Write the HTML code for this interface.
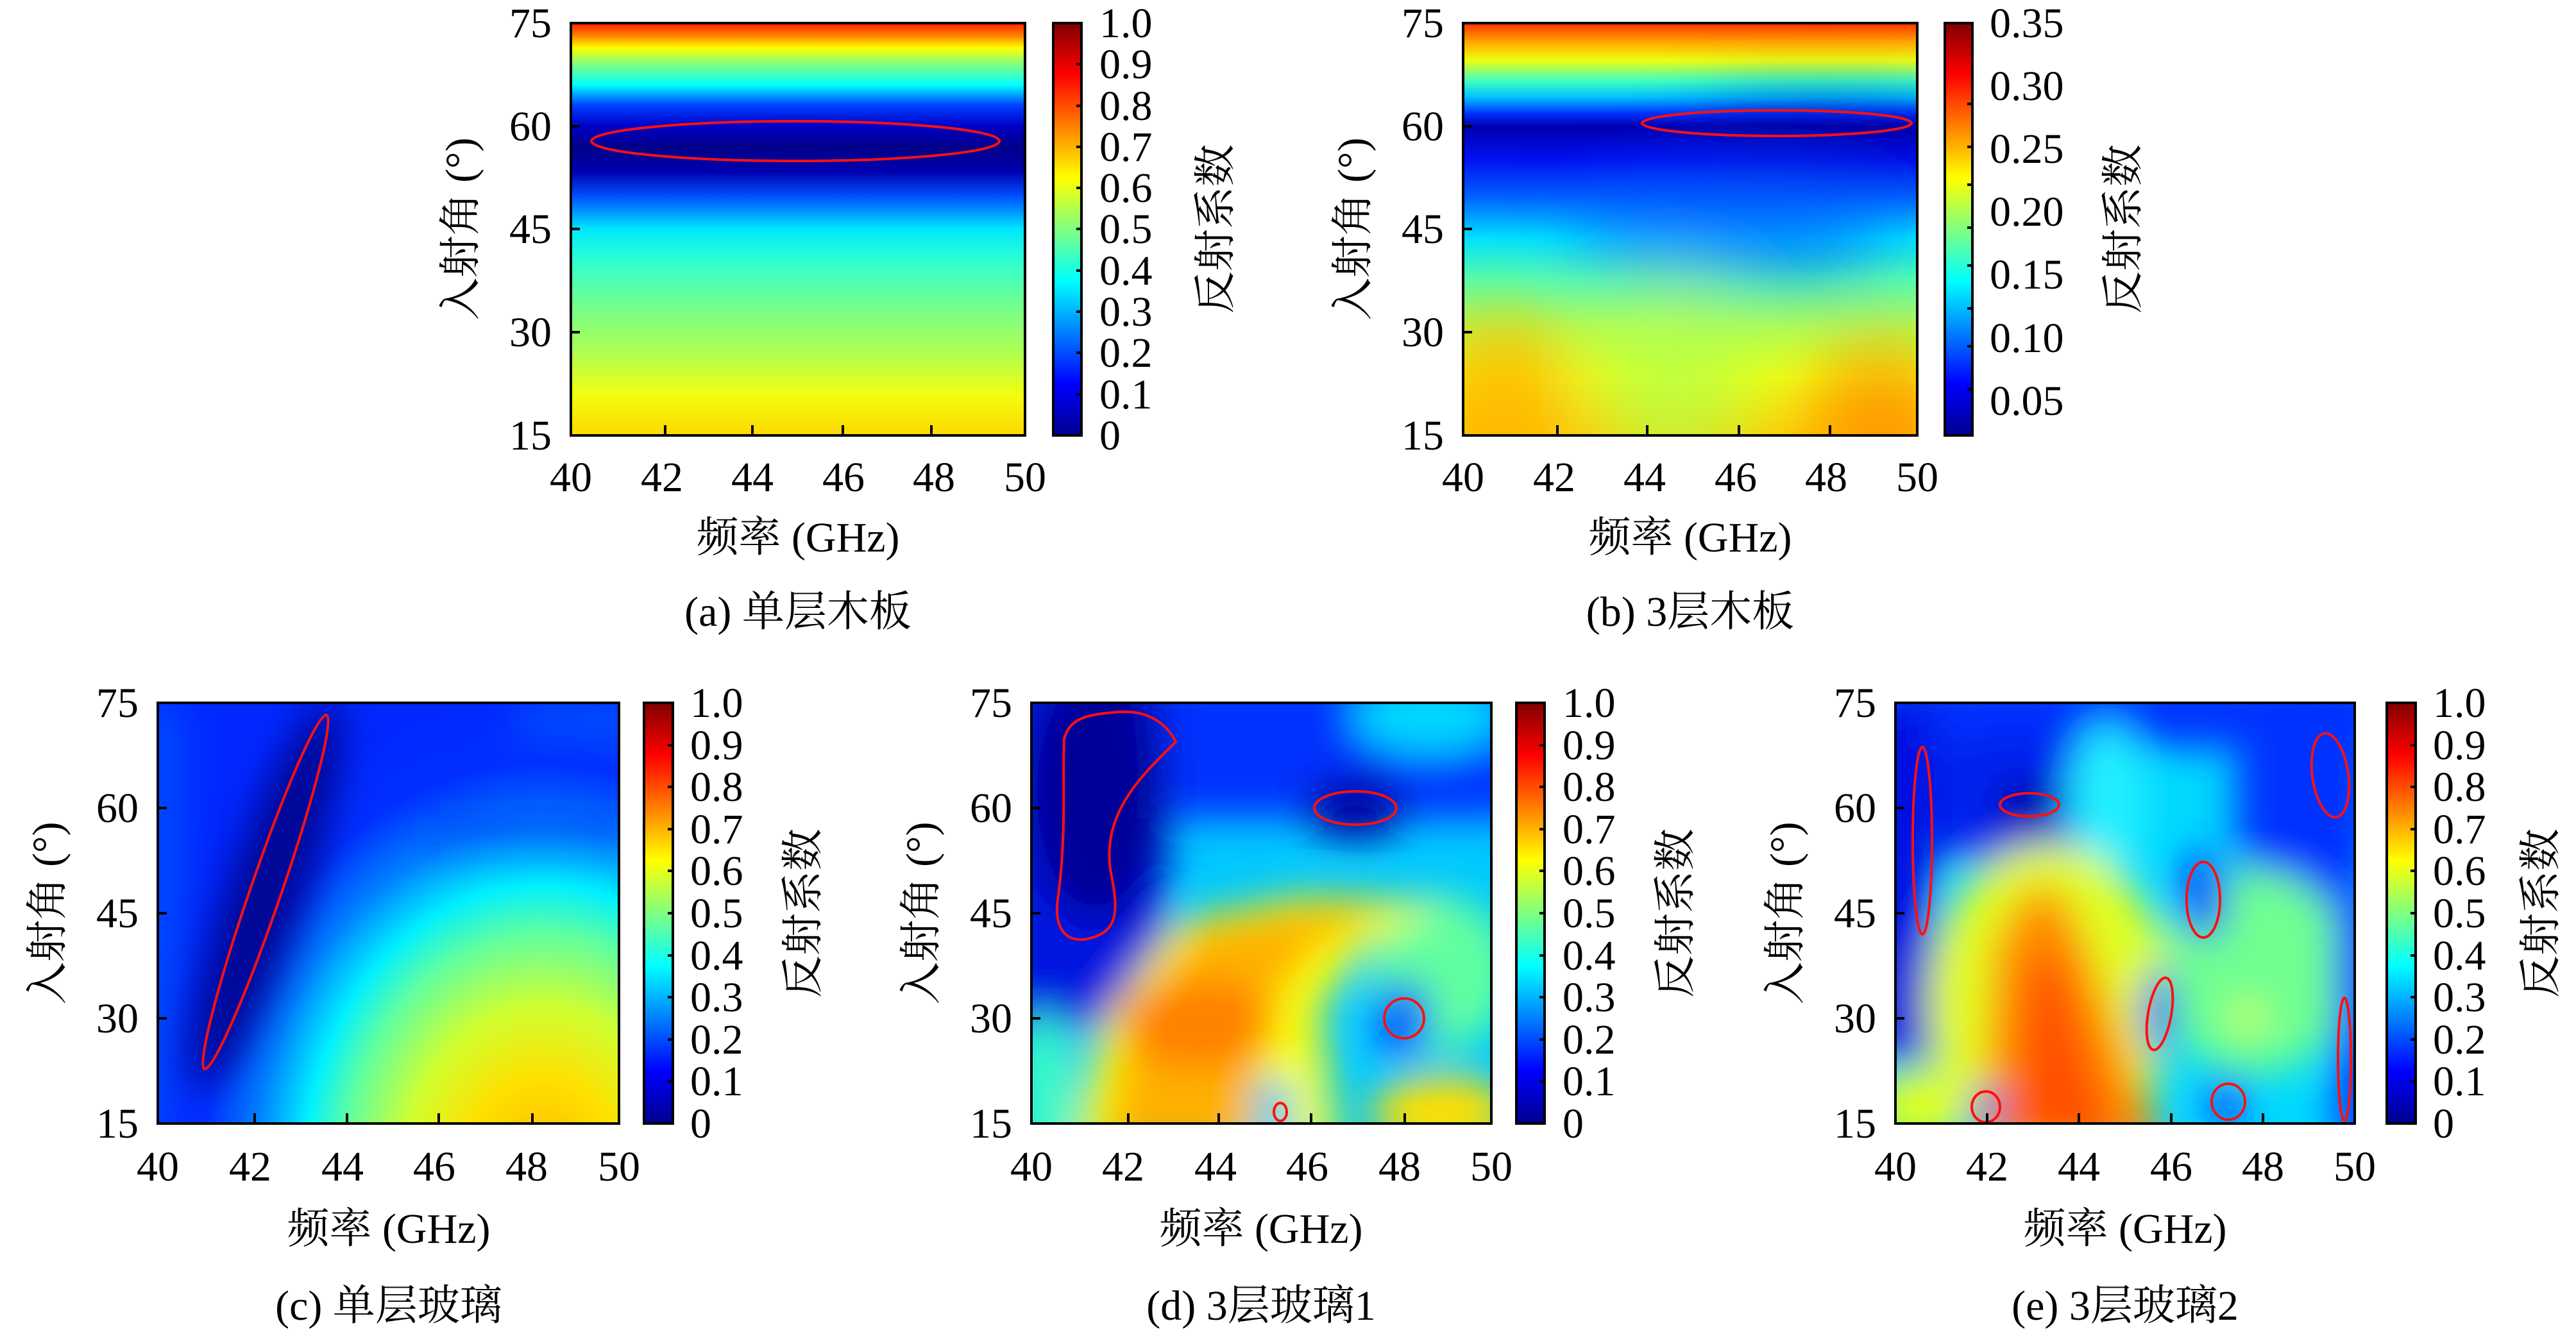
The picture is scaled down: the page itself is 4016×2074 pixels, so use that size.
<!DOCTYPE html>
<html><head><meta charset="utf-8"><style>
html,body{margin:0;padding:0;background:#fff;}
svg{display:block;}
.n{font-family:"Liberation Serif",serif;font-size:66px;fill:#000;}
.c{font-family:"Liberation Serif","Noto Serif CJK SC","Noto Sans CJK SC",serif;font-size:66px;fill:#000;}
</style></head><body>
<svg width="4016" height="2074" viewBox="0 0 4016 2074" xmlns="http://www.w3.org/2000/svg">
<defs>
<linearGradient id="jet" x1="0" y1="1" x2="0" y2="0">
<stop offset="0" stop-color="#00008f"/><stop offset="0.125" stop-color="#0000ff"/><stop offset="0.375" stop-color="#00ffff"/><stop offset="0.5" stop-color="#80ff80"/><stop offset="0.625" stop-color="#ffff00"/><stop offset="0.875" stop-color="#ff0000"/><stop offset="1" stop-color="#800000"/>
</linearGradient>
<linearGradient id="ga" x1="0" y1="0" x2="0" y2="1">
<stop offset="0" stop-color="#ff2000"/><stop offset="0.03" stop-color="#ff8000"/><stop offset="0.06" stop-color="#ffff00"/><stop offset="0.1" stop-color="#80ff80"/><stop offset="0.15" stop-color="#00ffff"/><stop offset="0.2" stop-color="#0040ff"/><stop offset="0.25" stop-color="#0000c8"/><stop offset="0.3" stop-color="#000088"/><stop offset="0.36" stop-color="#0000b0"/><stop offset="0.42" stop-color="#0050ff"/><stop offset="0.5" stop-color="#00e8ff"/><stop offset="0.58" stop-color="#30ffd0"/><stop offset="0.68" stop-color="#70ff90"/><stop offset="0.8" stop-color="#b0ff50"/><stop offset="0.9" stop-color="#f0ff10"/><stop offset="1" stop-color="#ffd800"/>
</linearGradient>
<linearGradient id="gb" x1="0" y1="0" x2="0" y2="1">
<stop offset="0" stop-color="#ff3000"/><stop offset="0.05" stop-color="#ffb000"/><stop offset="0.09" stop-color="#f0ff10"/><stop offset="0.14" stop-color="#40ffc0"/><stop offset="0.18" stop-color="#00c0ff"/><stop offset="0.22" stop-color="#0030ff"/><stop offset="0.25" stop-color="#0000b0"/><stop offset="0.33" stop-color="#0010f0"/><stop offset="0.42" stop-color="#0060ff"/><stop offset="0.52" stop-color="#00e0ff"/><stop offset="0.62" stop-color="#50ffb0"/><stop offset="0.74" stop-color="#b0ff50"/><stop offset="0.86" stop-color="#f0ff10"/><stop offset="1" stop-color="#ffd000"/>
</linearGradient>
<radialGradient id="gc" cx="600" cy="740" r="760" gradientUnits="userSpaceOnUse" gradientTransform="translate(600 740) scale(0.82 1) translate(-600 -740)">
<stop offset="0" stop-color="#ffb000"/><stop offset="0.2" stop-color="#ffe000"/><stop offset="0.35" stop-color="#d0ff30"/><stop offset="0.5" stop-color="#60ffa0"/><stop offset="0.6" stop-color="#00f0ff"/><stop offset="0.72" stop-color="#0080ff"/><stop offset="0.85" stop-color="#0030ff"/><stop offset="1" stop-color="#0030ff" stop-opacity="0"/>
</radialGradient>
<filter id="bl" x="-30%" y="-30%" width="160%" height="160%"><feGaussianBlur stdDeviation="30"/></filter>
<filter id="bl2" x="-30%" y="-30%" width="160%" height="160%"><feGaussianBlur stdDeviation="55"/></filter>
<clipPath id="cc"><rect x="0" y="0" width="719" height="656"/></clipPath>
<clipPath id="cd"><rect x="0" y="0" width="717" height="656"/></clipPath>
<clipPath id="ce"><rect x="0" y="0" width="716" height="656"/></clipPath>
<clipPath id="cbb"><rect x="0" y="0" width="708" height="643"/></clipPath>
</defs>

<!-- ========== Panel A ========== -->
<g transform="translate(890,36)">
<rect width="708" height="643" fill="url(#ga)"/>
<ellipse cx="350" cy="184" rx="318" ry="31" fill="none" stroke="#ff1010" stroke-width="4"/>
<rect width="708" height="643" fill="none" stroke="#000" stroke-width="4"/>
<g stroke="#000" stroke-width="4"><line x1="147" y1="643" x2="147" y2="627"/><line x1="283" y1="643" x2="283" y2="627"/><line x1="424" y1="643" x2="424" y2="627"/><line x1="562" y1="643" x2="562" y2="627"/>
<line x1="0" y1="161" x2="14" y2="161"/><line x1="0" y1="321" x2="14" y2="321"/><line x1="0" y1="482" x2="14" y2="482"/></g>
<g class="n" text-anchor="end"><text x="-30" y="22">75</text><text x="-30" y="183">60</text><text x="-30" y="343">45</text><text x="-30" y="504">30</text><text x="-30" y="665">15</text></g>
<g class="n" text-anchor="middle"><text x="0" y="730">40</text><text x="142" y="730">42</text><text x="283" y="730">44</text><text x="425" y="730">46</text><text x="566" y="730">48</text><text x="708" y="730">50</text></g>
<text class="c" x="354" y="824" text-anchor="middle">频率 (GHz)</text>
<text class="c" x="354" y="940" text-anchor="middle">(a) 单层木板</text>
<text class="c" transform="translate(-150,321) rotate(-90)" text-anchor="middle">入射角 (°)</text>
</g>
<g transform="translate(1642,36)">
<rect width="44" height="643" fill="url(#jet)" stroke="#000" stroke-width="4"/>
<g stroke="#000" stroke-width="4"><line x1="44" y1="64" x2="36" y2="64"/><line x1="44" y1="129" x2="36" y2="129"/><line x1="44" y1="193" x2="36" y2="193"/><line x1="44" y1="257" x2="36" y2="257"/><line x1="44" y1="321" x2="36" y2="321"/><line x1="44" y1="386" x2="36" y2="386"/><line x1="44" y1="450" x2="36" y2="450"/><line x1="44" y1="514" x2="36" y2="514"/><line x1="44" y1="579" x2="36" y2="579"/></g>
<g class="n"><text x="72" y="22">1.0</text><text x="72" y="86">0.9</text><text x="72" y="151">0.8</text><text x="72" y="215">0.7</text><text x="72" y="279">0.6</text><text x="72" y="343">0.5</text><text x="72" y="408">0.4</text><text x="72" y="472">0.3</text><text x="72" y="536">0.2</text><text x="72" y="601">0.1</text><text x="72" y="665">0</text></g>
<text class="c" transform="translate(275,321) rotate(-90)" text-anchor="middle">反射系数</text>
</g>

<!-- ========== Panel B ========== -->
<g transform="translate(2281,36)">
<g clip-path="url(#cbb)">
<rect width="708" height="643" fill="url(#gb)"/>
<g filter="url(#bl2)">
<ellipse cx="420" cy="320" rx="250" ry="70" fill="#0050ff" opacity="0.7"/>
<ellipse cx="60" cy="600" rx="110" ry="140" fill="#ffb000" opacity="0.8"/>
<ellipse cx="650" cy="620" rx="110" ry="120" fill="#ff8000" opacity="0.7"/>
<ellipse cx="330" cy="560" rx="120" ry="160" fill="#b0ff50" opacity="0.7"/>
<ellipse cx="560" cy="160" rx="200" ry="25" fill="#000090" opacity="0.7"/>
</g></g>
<ellipse cx="489" cy="156" rx="210" ry="20" fill="none" stroke="#ff1010" stroke-width="4"/>
<rect width="708" height="643" fill="none" stroke="#000" stroke-width="4"/>
<g stroke="#000" stroke-width="4"><line x1="147" y1="643" x2="147" y2="627"/><line x1="287" y1="643" x2="287" y2="627"/><line x1="430" y1="643" x2="430" y2="627"/><line x1="572" y1="643" x2="572" y2="627"/>
<line x1="0" y1="161" x2="14" y2="161"/><line x1="0" y1="321" x2="14" y2="321"/><line x1="0" y1="482" x2="14" y2="482"/></g>
<g class="n" text-anchor="end"><text x="-30" y="22">75</text><text x="-30" y="183">60</text><text x="-30" y="343">45</text><text x="-30" y="504">30</text><text x="-30" y="665">15</text></g>
<g class="n" text-anchor="middle"><text x="0" y="730">40</text><text x="142" y="730">42</text><text x="283" y="730">44</text><text x="425" y="730">46</text><text x="566" y="730">48</text><text x="708" y="730">50</text></g>
<text class="c" x="354" y="824" text-anchor="middle">频率 (GHz)</text>
<text class="c" x="354" y="940" text-anchor="middle">(b) 3层木板</text>
<text class="c" transform="translate(-150,321) rotate(-90)" text-anchor="middle">入射角 (°)</text>
</g>
<g transform="translate(3032,36)">
<rect width="43" height="643" fill="url(#jet)" stroke="#000" stroke-width="4"/>
<g stroke="#000" stroke-width="4"><line x1="43" y1="126" x2="35" y2="126"/><line x1="43" y1="252" x2="35" y2="252"/><line x1="43" y1="378" x2="35" y2="378"/><line x1="43" y1="504" x2="35" y2="504"/><line x1="43" y1="193" x2="35" y2="193"/><line x1="43" y1="319" x2="35" y2="319"/><line x1="43" y1="445" x2="35" y2="445"/><line x1="43" y1="571" x2="35" y2="571"/></g>
<g class="n"><text x="70" y="22">0.35</text><text x="70" y="120">0.30</text><text x="70" y="218">0.25</text><text x="70" y="316">0.20</text><text x="70" y="414">0.15</text><text x="70" y="513">0.10</text><text x="70" y="611">0.05</text></g>
<text class="c" transform="translate(300,321) rotate(-90)" text-anchor="middle">反射系数</text>
</g>

<!-- ========== Panel C ========== -->
<g transform="translate(246,1096)">
<g clip-path="url(#cc)">
<rect width="719" height="656" fill="#0028ff"/>
<g filter="url(#bl)">
<rect x="560" y="0" width="200" height="120" fill="#0070ff" opacity="0.7"/>
<rect x="-40" y="0" width="80" height="700" fill="#0060ff" opacity="0.6"/>
</g>
<rect width="719" height="656" fill="url(#gc)"/>
<g filter="url(#bl)">
<ellipse cx="168" cy="300" rx="60" ry="320" transform="rotate(19 168 300)" fill="#000080" opacity="0.85"/>
<rect x="420" y="170" width="320" height="50" fill="#0020f0" opacity="0.4"/>
</g></g>
<ellipse cx="168" cy="295" rx="24" ry="292" transform="rotate(19 168 295)" fill="none" stroke="#ff1010" stroke-width="4"/>
<rect width="719" height="656" fill="none" stroke="#000" stroke-width="4"/>
<g stroke="#000" stroke-width="4"><line x1="151" y1="656" x2="151" y2="640"/><line x1="295" y1="656" x2="295" y2="640"/><line x1="438" y1="656" x2="438" y2="640"/><line x1="584" y1="656" x2="584" y2="640"/>
<line x1="0" y1="164" x2="14" y2="164"/><line x1="0" y1="328" x2="14" y2="328"/><line x1="0" y1="492" x2="14" y2="492"/></g>
<g class="n" text-anchor="end"><text x="-30" y="22">75</text><text x="-30" y="186">60</text><text x="-30" y="350">45</text><text x="-30" y="514">30</text><text x="-30" y="678">15</text></g>
<g class="n" text-anchor="middle"><text x="0" y="745">40</text><text x="144" y="745">42</text><text x="288" y="745">44</text><text x="431" y="745">46</text><text x="575" y="745">48</text><text x="719" y="745">50</text></g>
<text class="c" x="360" y="842" text-anchor="middle">频率 (GHz)</text>
<text class="c" x="360" y="962" text-anchor="middle">(c) 单层玻璃</text>
<text class="c" transform="translate(-150,328) rotate(-90)" text-anchor="middle">入射角 (°)</text>
</g>

<!-- ========== Panel D ========== -->
<g transform="translate(1608,1096)">
<g clip-path="url(#cd)">
<rect width="717" height="656" fill="#00c8ff"/>
<g filter="url(#bl)">
<rect x="-50" y="-50" width="820" height="230" fill="#0030ff"/>
<rect x="-50" y="-50" width="260" height="560" fill="#0018e0"/>
<ellipse cx="100" cy="140" rx="110" ry="200" fill="#000098"/>
<ellipse cx="620" cy="20" rx="120" ry="60" fill="#00d8ff"/>
<ellipse cx="505" cy="164" rx="80" ry="50" fill="#0000a0"/>
<ellipse cx="640" cy="420" rx="110" ry="120" fill="#60ffa0"/>
<polygon points="60,700 110,500 230,340 420,300 640,310 520,380 450,480 480,700" fill="#f8ff10"/>
<polygon points="110,700 150,500 260,350 440,320 560,320 440,380 370,480 330,700" fill="#ffb000"/>
<ellipse cx="260" cy="500" rx="120" ry="70" fill="#ff8000"/>
<ellipse cx="640" cy="640" rx="110" ry="60" fill="#ffe000"/>
<ellipse cx="581" cy="492" rx="40" ry="60" fill="#0040ff"/>
<ellipse cx="378" cy="640" rx="30" ry="60" fill="#00c0ff"/>
<ellipse cx="20" cy="600" rx="40" ry="120" fill="#40ffc0"/>
</g></g>
<path d="M51,56 C60,25 82,18 140,14 C190,12 215,40 225,61 C175,110 110,170 123,260 C135,320 140,360 82,369 C45,372 35,340 42,300 C55,200 48,120 51,56 Z" fill="none" stroke="#ff1010" stroke-width="4"/>
<ellipse cx="505" cy="164" rx="64" ry="26" fill="none" stroke="#ff1010" stroke-width="4"/>
<ellipse cx="581" cy="492" rx="31" ry="31" fill="none" stroke="#ff1010" stroke-width="4"/>
<ellipse cx="388" cy="638" rx="10" ry="14" fill="none" stroke="#ff1010" stroke-width="4"/>
<rect width="717" height="656" fill="none" stroke="#000" stroke-width="4"/>
<g stroke="#000" stroke-width="4"><line x1="151" y1="656" x2="151" y2="640"/><line x1="292" y1="656" x2="292" y2="640"/><line x1="436" y1="656" x2="436" y2="640"/><line x1="582" y1="656" x2="582" y2="640"/>
<line x1="0" y1="164" x2="14" y2="164"/><line x1="0" y1="328" x2="14" y2="328"/><line x1="0" y1="492" x2="14" y2="492"/></g>
<g class="n" text-anchor="end"><text x="-30" y="22">75</text><text x="-30" y="186">60</text><text x="-30" y="350">45</text><text x="-30" y="514">30</text><text x="-30" y="678">15</text></g>
<g class="n" text-anchor="middle"><text x="0" y="745">40</text><text x="143" y="745">42</text><text x="287" y="745">44</text><text x="430" y="745">46</text><text x="574" y="745">48</text><text x="717" y="745">50</text></g>
<text class="c" x="358" y="842" text-anchor="middle">频率 (GHz)</text>
<text class="c" x="358" y="962" text-anchor="middle">(d) 3层玻璃1</text>
<text class="c" transform="translate(-150,328) rotate(-90)" text-anchor="middle">入射角 (°)</text>
</g>

<!-- ========== Panel E ========== -->
<g transform="translate(2955,1096)">
<g clip-path="url(#ce)">
<rect width="716" height="656" fill="#00d8ff"/>
<g filter="url(#bl)">
<rect x="-50" y="-50" width="820" height="120" fill="#0030ff"/>
<ellipse cx="190" cy="150" rx="170" ry="110" fill="#0020f0"/>
<ellipse cx="640" cy="150" rx="110" ry="220" fill="#0030ff"/>
<ellipse cx="330" cy="150" rx="60" ry="120" fill="#20f0ff"/>
<rect x="-50" y="0" width="110" height="560" fill="#0010e0"/>
<ellipse cx="205" cy="160" rx="50" ry="35" fill="#000090"/>
<ellipse cx="560" cy="420" rx="150" ry="160" fill="#70ff90"/>
<ellipse cx="240" cy="470" rx="190" ry="250" fill="#e0ff20"/>
<polygon points="130,700 150,380 200,290 260,290 300,380 420,700" fill="#ff9000"/>
<polygon points="180,700 200,450 235,360 265,420 350,700" fill="#ff5000"/>
<ellipse cx="40" cy="630" rx="80" ry="60" fill="#e0ff20"/>
<ellipse cx="480" cy="300" rx="35" ry="70" fill="#0030ff"/>
<ellipse cx="410" cy="480" rx="25" ry="70" fill="#0040ff"/>
<rect x="685" y="300" width="80" height="400" fill="#0040ff"/>
<ellipse cx="140" cy="630" rx="25" ry="30" fill="#0040ff"/>
<ellipse cx="517" cy="620" rx="30" ry="40" fill="#0030ff"/>
<ellipse cx="550" cy="490" rx="25" ry="20" fill="#f0ff30"/>
</g></g>
<ellipse cx="42" cy="215" rx="15" ry="146" fill="none" stroke="#ff1010" stroke-width="4"/>
<ellipse cx="209" cy="159" rx="46" ry="18" fill="none" stroke="#ff1010" stroke-width="4"/>
<ellipse cx="678" cy="113" rx="28" ry="66" transform="rotate(-8 678 113)" fill="none" stroke="#ff1010" stroke-width="4"/>
<ellipse cx="480" cy="307" rx="26" ry="59" fill="none" stroke="#ff1010" stroke-width="4"/>
<ellipse cx="412" cy="485" rx="18" ry="57" transform="rotate(10 412 485)" fill="none" stroke="#ff1010" stroke-width="4"/>
<ellipse cx="700" cy="556" rx="10" ry="96" fill="none" stroke="#ff1010" stroke-width="4"/>
<ellipse cx="141" cy="630" rx="22" ry="24" fill="none" stroke="#ff1010" stroke-width="4"/>
<ellipse cx="519" cy="622" rx="26" ry="28" fill="none" stroke="#ff1010" stroke-width="4"/>
<rect width="716" height="656" fill="none" stroke="#000" stroke-width="4"/>
<g stroke="#000" stroke-width="4"><line x1="143" y1="656" x2="143" y2="640"/><line x1="286" y1="656" x2="286" y2="640"/><line x1="430" y1="656" x2="430" y2="640"/><line x1="573" y1="656" x2="573" y2="640"/>
<line x1="0" y1="164" x2="14" y2="164"/><line x1="0" y1="328" x2="14" y2="328"/><line x1="0" y1="492" x2="14" y2="492"/></g>
<g class="n" text-anchor="end"><text x="-30" y="22">75</text><text x="-30" y="186">60</text><text x="-30" y="350">45</text><text x="-30" y="514">30</text><text x="-30" y="678">15</text></g>
<g class="n" text-anchor="middle"><text x="0" y="745">40</text><text x="143" y="745">42</text><text x="286" y="745">44</text><text x="430" y="745">46</text><text x="573" y="745">48</text><text x="716" y="745">50</text></g>
<text class="c" x="358" y="842" text-anchor="middle">频率 (GHz)</text>
<text class="c" x="358" y="962" text-anchor="middle">(e) 3层玻璃2</text>
<text class="c" transform="translate(-150,328) rotate(-90)" text-anchor="middle">入射角 (°)</text>
</g>

<!-- colorbars bottom -->
<g transform="translate(1004,1096)">
<rect width="45" height="656" fill="url(#jet)" stroke="#000" stroke-width="4"/>
<g stroke="#000" stroke-width="4"><line x1="45" y1="66" x2="37" y2="66"/><line x1="45" y1="131" x2="37" y2="131"/><line x1="45" y1="197" x2="37" y2="197"/><line x1="45" y1="262" x2="37" y2="262"/><line x1="45" y1="328" x2="37" y2="328"/><line x1="45" y1="394" x2="37" y2="394"/><line x1="45" y1="459" x2="37" y2="459"/><line x1="45" y1="525" x2="37" y2="525"/><line x1="45" y1="590" x2="37" y2="590"/></g>
<g class="n"><text x="72" y="22">1.0</text><text x="72" y="88">0.9</text><text x="72" y="153">0.8</text><text x="72" y="219">0.7</text><text x="72" y="284">0.6</text><text x="72" y="350">0.5</text><text x="72" y="416">0.4</text><text x="72" y="481">0.3</text><text x="72" y="547">0.2</text><text x="72" y="612">0.1</text><text x="72" y="678">0</text></g>
<text class="c" transform="translate(270,328) rotate(-90)" text-anchor="middle">反射系数</text>
</g>
<g transform="translate(2364,1096)">
<rect width="44" height="656" fill="url(#jet)" stroke="#000" stroke-width="4"/>
<g stroke="#000" stroke-width="4"><line x1="44" y1="66" x2="36" y2="66"/><line x1="44" y1="131" x2="36" y2="131"/><line x1="44" y1="197" x2="36" y2="197"/><line x1="44" y1="262" x2="36" y2="262"/><line x1="44" y1="328" x2="36" y2="328"/><line x1="44" y1="394" x2="36" y2="394"/><line x1="44" y1="459" x2="36" y2="459"/><line x1="44" y1="525" x2="36" y2="525"/><line x1="44" y1="590" x2="36" y2="590"/></g>
<g class="n"><text x="72" y="22">1.0</text><text x="72" y="88">0.9</text><text x="72" y="153">0.8</text><text x="72" y="219">0.7</text><text x="72" y="284">0.6</text><text x="72" y="350">0.5</text><text x="72" y="416">0.4</text><text x="72" y="481">0.3</text><text x="72" y="547">0.2</text><text x="72" y="612">0.1</text><text x="72" y="678">0</text></g>
<text class="c" transform="translate(270,328) rotate(-90)" text-anchor="middle">反射系数</text>
</g>
<g transform="translate(3721,1096)">
<rect width="45" height="656" fill="url(#jet)" stroke="#000" stroke-width="4"/>
<g stroke="#000" stroke-width="4"><line x1="45" y1="66" x2="37" y2="66"/><line x1="45" y1="131" x2="37" y2="131"/><line x1="45" y1="197" x2="37" y2="197"/><line x1="45" y1="262" x2="37" y2="262"/><line x1="45" y1="328" x2="37" y2="328"/><line x1="45" y1="394" x2="37" y2="394"/><line x1="45" y1="459" x2="37" y2="459"/><line x1="45" y1="525" x2="37" y2="525"/><line x1="45" y1="590" x2="37" y2="590"/></g>
<g class="n"><text x="72" y="22">1.0</text><text x="72" y="88">0.9</text><text x="72" y="153">0.8</text><text x="72" y="219">0.7</text><text x="72" y="284">0.6</text><text x="72" y="350">0.5</text><text x="72" y="416">0.4</text><text x="72" y="481">0.3</text><text x="72" y="547">0.2</text><text x="72" y="612">0.1</text><text x="72" y="678">0</text></g>
<text class="c" transform="translate(262,328) rotate(-90)" text-anchor="middle">反射系数</text>
</g>
</svg>
</body></html>
